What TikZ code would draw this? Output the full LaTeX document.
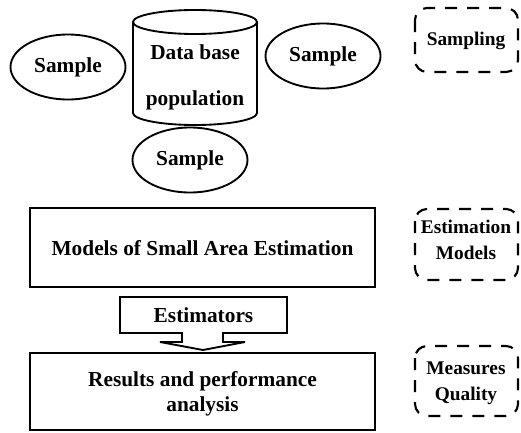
\documentclass[tikz,border=0pt]{standalone}
\usepackage{fontspec}
\setmainfont{Liberation Serif}
\usetikzlibrary{shapes.geometric}
\begin{document}
\begin{tikzpicture}[x=0.75pt,y=-0.75pt,
  line width=1.4pt,
  lbl/.style={font=\fontsize{16}{18.5}\selectfont\bfseries, align=center, inner sep=0pt},
  slbl/.style={font=\fontsize{14.5}{19.5}\selectfont\bfseries, align=center, inner sep=0pt},
  samp/.style={draw, ellipse, minimum width=115*0.75pt, minimum height=65*0.75pt, inner sep=0pt, font=\fontsize{16}{18}\selectfont\bfseries},
  dbox/.style={draw, rounded corners=9pt, dash pattern=on 9pt off 7.5pt, line width=1.6pt},
  rbox/.style={draw, line width=1.4pt}]
\useasboundingbox (0,0) rectangle (521,432);
% samples
\node[samp] (s1) at (68,67) {Sample};
\node[samp] (s2) at (323,56) {Sample};
\node[samp] (s3) at (190,160) {Sample};
% cylinder
\draw (133,22) -- (133,113) arc[start angle=180,end angle=0,x radius=62,y radius=12] -- (257,22);
\draw (195,22) ellipse [x radius=62, y radius=12];
\node[lbl] (db1) at (195,52) {Data base};
\node[lbl] (db2) at (195,100) {population};
% models box
\draw[rbox] (30,208) rectangle (375,287);
\node[lbl] (m) at (202.5,248) {Models of Small Area Estimation};
% estimators arrow
\draw[rbox, line join=miter] (120,297) -- (287,297) -- (287,333) -- (223,333) -- (223,342) -- (245,342) -- (203,350) -- (160,342) -- (182,342) -- (182,333) -- (120,333) -- cycle;
\node[lbl] (est) at (203.5,315) {Estimators};
% results box
\draw[rbox] (30,353) rectangle (375,430);
\node[lbl] (res) at (202.5,394) {Results and performance\\analysis};
% dashed boxes
\draw[dbox] (415,8) rectangle (518,72);
\node[slbl] (sa) at (466,41) {Sampling};
\draw[dbox] (415,209) rectangle (518,280);
\node[slbl] (em) at (466,240) {Estimation\\Models};
\draw[dbox] (415,346) rectangle (518,416);
\node[slbl] (mq) at (466,383) {Measures\\Quality};
\end{tikzpicture}
\end{document}
